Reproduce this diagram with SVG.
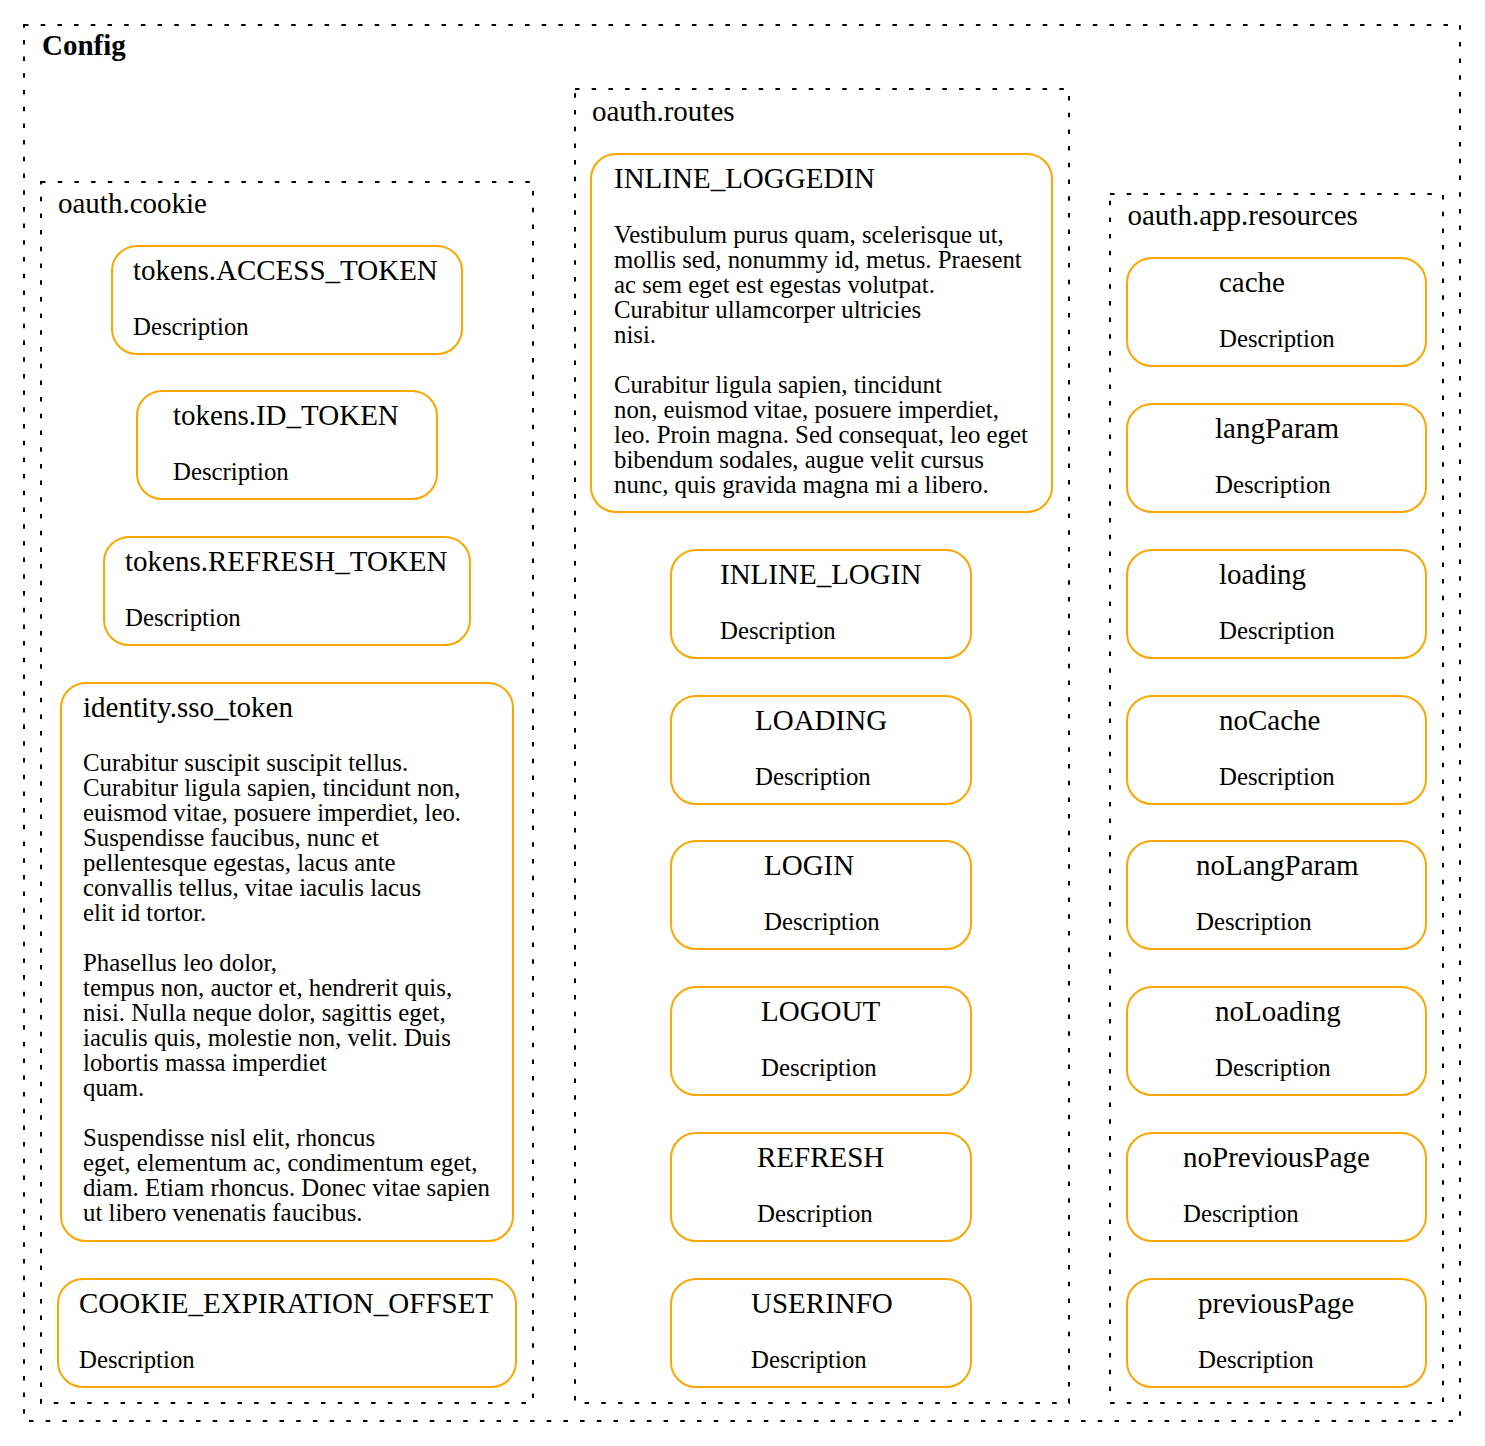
<svg xmlns="http://www.w3.org/2000/svg" width="1485" height="1446" viewBox="0 0 1485 1446">
<style>
.cl{fill:none;stroke:#000;stroke-width:2;stroke-dasharray:4.5 12.2}
.nd{fill:#fff;stroke:#ffa500;stroke-width:2}
text{font-family:"Liberation Serif","Times New Roman",serif;fill:#000}
.lbl{font-size:29px}
.bold{font-size:29px;font-weight:bold}
.t{font-size:29px}
.d{font-size:24.8px}
</style>
<rect width="1485" height="1446" fill="#fff"/>
<g id="cluster_config">
<rect class="cl" x="24" y="25" width="1436" height="1396"/>
<text class="bold" x="42" y="55">Config</text>
</g>
<g id="cluster_cookie">
<rect class="cl" x="41" y="182" width="492" height="1221"/>
<text class="lbl" x="58" y="213">oauth.cookie</text>
</g>
<g id="cluster_routes">
<rect class="cl" x="575" y="89" width="494" height="1314"/>
<text class="lbl" x="592" y="120.5">oauth.routes</text>
</g>
<g id="cluster_resources">
<rect class="cl" x="1110" y="194" width="333" height="1209"/>
<text class="lbl" x="1127.5" y="224.5">oauth.app.resources</text>
</g>
<g id="connectors"></g>

<g id="n_access_token"><rect class="nd" x="112" y="246" width="350" height="108" rx="25"/>
<text class="t" x="133" y="279.5">tokens.ACCESS_TOKEN</text><text class="d" x="133" y="335">Description</text></g>
<g id="n_id_token"><rect class="nd" x="137" y="391" width="300" height="108" rx="25"/>
<text class="t" x="173" y="424.5">tokens.ID_TOKEN</text><text class="d" x="173" y="480">Description</text></g>
<g id="n_refresh_token"><rect class="nd" x="104" y="537" width="366" height="108" rx="25"/>
<text class="t" x="125" y="570.5">tokens.REFRESH_TOKEN</text><text class="d" x="125" y="626">Description</text></g>
<g id="n_sso_token"><rect class="nd" x="61" y="683" width="452" height="558" rx="25"/>
<text class="t" x="83" y="716.5">identity.sso_token</text>
<text class="d"><tspan x="83" y="771">Curabitur suscipit suscipit tellus.</tspan><tspan x="83" y="796">Curabitur ligula sapien, tincidunt non,</tspan><tspan x="83" y="821">euismod vitae, posuere imperdiet, leo.</tspan><tspan x="83" y="846">Suspendisse faucibus, nunc et</tspan><tspan x="83" y="871">pellentesque egestas, lacus ante</tspan><tspan x="83" y="896">convallis tellus, vitae iaculis lacus</tspan><tspan x="83" y="921">elit id tortor.</tspan><tspan x="83" y="971">Phasellus leo dolor,</tspan><tspan x="83" y="996">tempus non, auctor et, hendrerit quis,</tspan><tspan x="83" y="1021">nisi. Nulla neque dolor, sagittis eget,</tspan><tspan x="83" y="1046">iaculis quis, molestie non, velit. Duis</tspan><tspan x="83" y="1071">lobortis massa imperdiet</tspan><tspan x="83" y="1096">quam.</tspan><tspan x="83" y="1146">Suspendisse nisl elit, rhoncus</tspan><tspan x="83" y="1171">eget, elementum ac, condimentum eget,</tspan><tspan x="83" y="1196">diam. Etiam rhoncus. Donec vitae sapien</tspan><tspan x="83" y="1221">ut libero venenatis faucibus.</tspan></text></g>
<g id="n_cookie_exp"><rect class="nd" x="58" y="1279" width="458" height="108" rx="25"/>
<text class="t" x="79" y="1312.5">COOKIE_EXPIRATION_OFFSET</text><text class="d" x="79" y="1368">Description</text></g>

<g id="n_inline_loggedin"><rect class="nd" x="591" y="154" width="461" height="358" rx="25"/>
<text class="t" x="614" y="188">INLINE_LOGGEDIN</text>
<text class="d"><tspan x="614" y="243">Vestibulum purus quam, scelerisque ut,</tspan><tspan x="614" y="268">mollis sed, nonummy id, metus. Praesent</tspan><tspan x="614" y="293">ac sem eget est egestas volutpat.</tspan><tspan x="614" y="318">Curabitur ullamcorper ultricies</tspan><tspan x="614" y="343">nisi.</tspan><tspan x="614" y="393">Curabitur ligula sapien, tincidunt</tspan><tspan x="614" y="418">non, euismod vitae, posuere imperdiet,</tspan><tspan x="614" y="443">leo. Proin magna. Sed consequat, leo eget</tspan><tspan x="614" y="468">bibendum sodales, augue velit cursus</tspan><tspan x="614" y="493">nunc, quis gravida magna mi a libero.</tspan></text></g>
<g id="n_inline_login"><rect class="nd" x="671" y="550" width="300" height="108" rx="25"/>
<text class="t" x="720" y="584">INLINE_LOGIN</text><text class="d" x="720" y="639">Description</text></g>
<g id="n_loading_r"><rect class="nd" x="671" y="696" width="300" height="108" rx="25"/>
<text class="t" x="755" y="730">LOADING</text><text class="d" x="755" y="785">Description</text></g>
<g id="n_login"><rect class="nd" x="671" y="841" width="300" height="108" rx="25"/>
<text class="t" x="764" y="875">LOGIN</text><text class="d" x="764" y="930">Description</text></g>
<g id="n_logout"><rect class="nd" x="671" y="987" width="300" height="108" rx="25"/>
<text class="t" x="761" y="1021">LOGOUT</text><text class="d" x="761" y="1076">Description</text></g>
<g id="n_refresh"><rect class="nd" x="671" y="1133" width="300" height="108" rx="25"/>
<text class="t" x="757" y="1167">REFRESH</text><text class="d" x="757" y="1222">Description</text></g>
<g id="n_userinfo"><rect class="nd" x="671" y="1279" width="300" height="108" rx="25"/>
<text class="t" x="751" y="1313">USERINFO</text><text class="d" x="751" y="1368">Description</text></g>

<g id="n_cache"><rect class="nd" x="1127" y="258" width="299" height="108" rx="25"/>
<text class="t" x="1219" y="291.5">cache</text><text class="d" x="1219" y="346.5">Description</text></g>
<g id="n_langparam"><rect class="nd" x="1127" y="404" width="299" height="108" rx="25"/>
<text class="t" x="1215" y="437.5">langParam</text><text class="d" x="1215" y="492.5">Description</text></g>
<g id="n_loading"><rect class="nd" x="1127" y="550" width="299" height="108" rx="25"/>
<text class="t" x="1219" y="583.5">loading</text><text class="d" x="1219" y="638.5">Description</text></g>
<g id="n_nocache"><rect class="nd" x="1127" y="696" width="299" height="108" rx="25"/>
<text class="t" x="1219" y="729.5">noCache</text><text class="d" x="1219" y="784.5">Description</text></g>
<g id="n_nolangparam"><rect class="nd" x="1127" y="841" width="299" height="108" rx="25"/>
<text class="t" x="1196" y="874.5">noLangParam</text><text class="d" x="1196" y="929.5">Description</text></g>
<g id="n_noloading"><rect class="nd" x="1127" y="987" width="299" height="108" rx="25"/>
<text class="t" x="1215" y="1020.5">noLoading</text><text class="d" x="1215" y="1075.5">Description</text></g>
<g id="n_nopreviouspage"><rect class="nd" x="1127" y="1133" width="299" height="108" rx="25"/>
<text class="t" x="1183" y="1166.5">noPreviousPage</text><text class="d" x="1183" y="1221.5">Description</text></g>
<g id="n_previouspage"><rect class="nd" x="1127" y="1279" width="299" height="108" rx="25"/>
<text class="t" x="1198" y="1312.5">previousPage</text><text class="d" x="1198" y="1367.5">Description</text></g>
</svg>
